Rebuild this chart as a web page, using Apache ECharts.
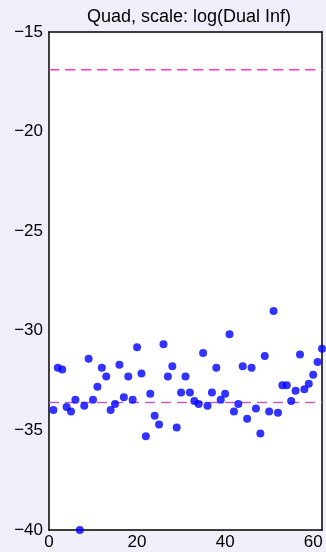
<!DOCTYPE html>
<html><head><meta charset="utf-8">
<script src="https://cdn.jsdelivr.net/npm/echarts@6/dist/echarts.min.js"></script>
<style>html,body{margin:0;padding:0;background:#efeffa;}#wrap{position:relative;width:326px;height:552px;}#bg{position:absolute;left:49px;top:32px;width:273px;height:498px;background:#fff;}#c{position:absolute;left:0;top:0;width:326px;height:552px;}</style>
</head><body><div id="wrap"><div id="bg"></div><div id="c"></div></div>
<script>
const titleText = "Quad, scale: log(Dual Inf)";
const xValues = [1,2,3,4,5,6,7,8,9,10,11,12,13,14,15,16,17,18,19,20,21,22,23,24,25,26,27,28,29,30,31,32,33,34,35,36,37,38,39,40,41,42,43,44,45,46,47,48,49,50,51,52,53,54,55,56,57,58,59,60,61,62];
const yValues = [-33.98,-31.86,-31.94,-33.83,-34.05,-33.46,-40.0,-33.76,-31.4,-33.46,-32.81,-31.86,-32.29,-33.98,-33.68,-31.71,-33.33,-32.29,-33.46,-30.82,-32.14,-35.29,-33.16,-34.26,-34.7,-30.67,-32.29,-31.78,-34.85,-33.1,-32.29,-33.1,-33.53,-33.68,-31.11,-33.76,-33.1,-31.86,-33.46,-33.16,-30.17,-34.05,-33.68,-31.78,-34.41,-31.86,-33.9,-35.15,-31.26,-34.05,-29.0,-34.11,-32.73,-32.73,-33.53,-33.01,-31.19,-32.94,-32.66,-32.21,-31.56,-30.9];
const upperLine = -16.9;
const lowerLine = -33.6;
const xRange = [0, 62];
const yRange = [-40, -15];

const chart = echarts.init(document.getElementById('c'), null, {renderer:'canvas'});
const fontFam = 'Liberation Sans, Arial, sans-serif';
const minus = v => String(v).replace('-', '\u2212');
function xAx(pos, showLabel) {
  return {type:'value', min:xRange[0], max:xRange[1], interval:20, position:pos,
    axisLine:{show:true, onZero:false, lineStyle:{color:'#000', width:1.5}}, splitLine:{show:false},
    axisTick:{show:false},
    axisLabel:{show:showLabel, fontFamily:fontFam, fontSize:17, color:'#000', margin:4, formatter:v=>minus(v), showMaxLabel:false}};
}
function yAx(pos, showLabel) {
  return {type:'value', min:yRange[0], max:yRange[1], interval:5, position:pos,
    axisLine:{show:true, onZero:false, lineStyle:{color:'#000', width:1.5}}, splitLine:{show:false},
    axisTick:{show:false},
    axisLabel:{show:showLabel, fontFamily:fontFam, fontSize:17, color:'#000', margin:6, formatter:v=>minus(v)}};
}
chart.setOption({
  backgroundColor:'transparent',
  animation:false,
  title:{text:titleText, left:184, top:3, textAlign:'center',
    textStyle:{fontFamily:fontFam, fontSize:18, fontWeight:'normal', color:'#000'}},
  grid:{left:49, right:4, top:32, bottom:22, show:false},
  xAxis:[xAx('bottom', true), xAx('top', false)],
  yAxis:[yAx('left', true), yAx('right', false)],
  series:[
    {type:'line', data:[[xRange[0],upperLine],[xRange[1],upperLine]], symbol:'none',
      lineStyle:{color:'#ff33cc', width:1.5, type:[10,6]}, z:2},
    {type:'line', data:[[xRange[0],lowerLine],[xRange[1],lowerLine]], symbol:'none',
      lineStyle:{color:'#c060c0', width:1.5, type:[10,6]}, z:2},
    {type:'scatter', data:xValues.map((x,i)=>[x,yValues[i]]), symbolSize:8,
      itemStyle:{color:'#0000ff'}, z:3, clip:false}
  ]
});
</script></body></html>
